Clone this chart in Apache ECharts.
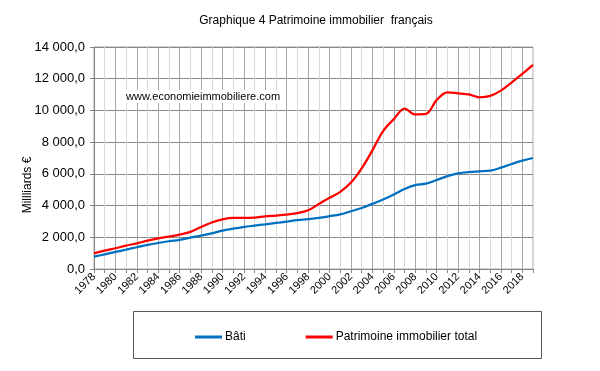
<!DOCTYPE html>
<html><head><meta charset="utf-8">
<script src="https://cdn.jsdelivr.net/npm/echarts@6/dist/echarts.min.js"></script>
<style>html,body{margin:0;padding:0;background:#fff}#c{width:600px;height:371px}</style>
</head><body><div id="c"></div>
<script>
const years = [];
for (let y = 1978; y <= 2019; y++) years.push(String(y));
const bati = [780, 925, 1075, 1220, 1370, 1515, 1640, 1750, 1840, 1980, 2100, 2250, 2420, 2550, 2650, 2740, 2820, 2905, 2990, 3075, 3140, 3220, 3330, 3450, 3640, 3850, 4105, 4380, 4700, 5050, 5290, 5380, 5610, 5860, 6030, 6115, 6160, 6200, 6390, 6620, 6830, 7000];
const total = [990, 1160, 1310, 1475, 1620, 1790, 1935, 2040, 2170, 2340, 2650, 2930, 3130, 3220, 3220, 3240, 3320, 3370, 3430, 3520, 3700, 4100, 4490, 4860, 5450, 6350, 7480, 8700, 9450, 10120, 9750, 9780, 10650, 11140, 11080, 11010, 10830, 10920, 11250, 11760, 12300, 12870];
const seriesNames = ['Bâti', 'Patrimoine immobilier total'];
const titleText = 'Graphique 4 Patrimoine immobilier  français';
const watermark = 'www.economieimmobiliere.com';
const yName = 'Millliards €';

const FONT = 'Liberation Sans';
const chart = echarts.init(document.getElementById('c'), null, {renderer: 'canvas'});
function fmt(v) {
  const s = Math.round(v).toString().replace(/\B(?=(\d{3})+(?!\d))/g, ' ');
  return s + ',0';
}
chart.setOption({
  animation: false,
  backgroundColor: '#fff',
  textStyle: {fontFamily: FONT},
  title: {text: titleText, left: 311, top: 10, textAlign: 'center',
    textStyle: {fontFamily: FONT, fontSize: 12, fontWeight: 'normal', color: '#000'}},
  grid: {left: 94, right: 67, top: 47, bottom: 102, show: true, borderColor: '#a6a6a6', borderWidth: 1},
  graphic: [
    {type: 'text', left: 126, top: 90, z: 10, style: {text: watermark, fontFamily: FONT, fontSize: 11, fill: '#000', backgroundColor: '#fff', padding: [1, 0, 1, 0]}},
    {type: 'text', x: 28, y: 185, rotation: Math.PI / 2, style: {text: yName, fontFamily: FONT, fontSize: 12, fill: '#000', align: 'center', verticalAlign: 'middle'}},
    {type: 'rect', shape: {x: 133.5, y: 311.5, width: 408, height: 47}, style: {fill: 'none', stroke: '#595959', lineWidth: 1}, z: 0}
  ],
  legend: {
    left: 190, top: 326, itemWidth: 27, itemHeight: 3, itemGap: 60, icon: 'rect',
    textStyle: {fontFamily: FONT, fontSize: 12, color: '#000', padding: [0, 0, 0, -2]},
    data: seriesNames
  },
  xAxis: {
    type: 'category', data: years, boundaryGap: false,
    axisLine: {lineStyle: {color: '#868686'}},
    axisTick: {show: true, interval: 0, length: 4, lineStyle: {color: '#868686'}},
    axisLabel: {interval: 1, rotate: 45, fontFamily: FONT, fontSize: 11, color: '#000', margin: 6},
    splitLine: {show: true, interval: 0, lineStyle: {color: ['#a6a6a6', '#d9d9d9'], width: 1}}
  },
  yAxis: {
    type: 'value', min: 0, max: 14000, interval: 2000,
    axisLine: {show: true, lineStyle: {color: '#868686'}},
    axisTick: {show: true, length: 4, lineStyle: {color: '#868686'}},
    axisLabel: {formatter: fmt, fontFamily: FONT, fontSize: 13, color: '#000', margin: 9},
    splitLine: {lineStyle: {color: '#868686', width: 1}}
  },
  series: [
    {name: seriesNames[0], type: 'line', data: bati, smooth: 0.35, showSymbol: false, symbol: 'none',
      lineStyle: {color: '#0070c0', width: 2.25}, itemStyle: {color: '#0070c0'}},
    {name: seriesNames[1], type: 'line', data: total, smooth: 0.35, showSymbol: false, symbol: 'none',
      lineStyle: {color: '#ff0000', width: 2.25}, itemStyle: {color: '#ff0000'}}
  ]
});
</script></body></html>
